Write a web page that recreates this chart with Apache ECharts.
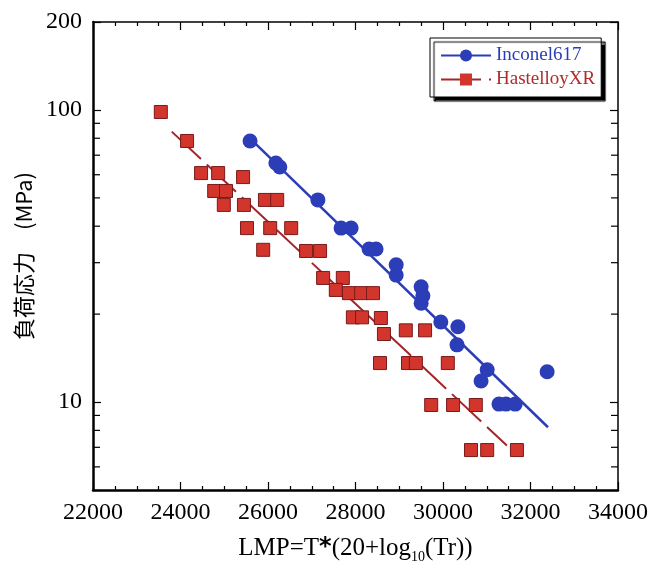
<!DOCTYPE html>
<html>
<head>
<meta charset="utf-8">
<script src="https://cdn.jsdelivr.net/npm/echarts@6/dist/echarts.min.js"></script>
<style>
  html, body { margin: 0; padding: 0; background: #fff; }
  #main { width: 654px; height: 570px; }
</style>
</head>
<body>
<div id="main"></div>
<script>
// measured points: [LMP, stress MPa]
var inconel = [
  [25590, 78.3], [26180, 65.8], [26270, 63.8], [27140, 49.2], [27670, 39.4],
  [27900, 39.4], [28310, 33.4], [28470, 33.4], [28930, 29.5], [28930, 27.2],
  [29500, 24.8], [29540, 23.1], [29500, 21.8], [29950, 18.8], [30340, 18.1],
  [30320, 15.7], [31010, 12.9], [30870, 11.8], [32380, 12.7], [31280, 9.84],
  [31440, 9.84], [31650, 9.84]
]
var hastelloy = [
  [23550, 98.4], [24150, 78.3], [24470, 60.8], [24860, 60.8], [25430, 58.9],
  [24770, 52.8], [25040, 52.8], [24990, 47.3], [25450, 47.3], [25930, 49.2],
  [26210, 49.2], [25520, 39.4], [26050, 39.4], [26530, 39.4], [25890, 33.2],
  [26870, 32.9], [27190, 32.9], [27260, 26.6], [27710, 26.6], [27550, 24.2],
  [27850, 23.6], [28130, 23.6], [28400, 23.6], [27940, 19.5], [28150, 19.5],
  [28580, 19.4], [28650, 17.1], [29150, 17.6], [29590, 17.6], [28560, 13.6],
  [29200, 13.6], [29380, 13.6], [30110, 13.6], [29730, 9.77], [30230, 9.77],
  [30750, 9.77], [30640, 6.85], [31010, 6.85], [31690, 6.85]
]
// fitted lines (end points)
var inconelFit = [[25600, 79.6], [32400, 8.2]]
var hastelloyFit = [[23800, 84.3], [31460, 7.1]]

// axis ranges / tick values
var xMin = 22000, xMax = 34000, xStep = 2000
var yMin = 5, yMax = 200
var yLabels = [10, 100, 200]
var yMinorTicks = [6, 7, 8, 9, 20, 30, 40, 50, 60, 70, 80, 90]

var blue = '#2c3db8'
var red = '#d2352c'
var redLine = '#a3262a'
var serif = '"Liberation Serif", "DejaVu Serif", serif'

var chart = echarts.init(document.getElementById('main'), null, { renderer: 'canvas' })

function xAxisCfg(pos) {
  return {
    type: 'value',
    position: pos,
    min: xMin,
    max: xMax,
    interval: xStep,
    axisLine: { show: true, onZero: false, lineStyle: { color: '#000', width: pos === 'bottom' ? 2.5 : 1.5 } },
    axisTick: { show: true, inside: true, length: 8, lineStyle: { color: '#000', width: 1.2 } },
    minorTick: { show: true, splitNumber: 4, length: 4, lineStyle: { color: '#000', width: 1.2 } },
    splitLine: { show: false },
    axisLabel: {
      show: pos === 'bottom',
      margin: 11,
      color: '#000',
      fontSize: 24,
      fontFamily: serif,
      formatter: function (v) { return String(v) }
    }
  }
}

function yAxisCfg(pos) {
  return {
    type: 'log',
    logBase: 10,
    position: pos,
    min: yMin,
    max: yMax,
    axisLine: { show: true, onZero: false, lineStyle: { color: '#000', width: pos === 'left' ? 2.5 : 1.5 } },
    axisTick: { show: true, inside: true, length: 8, lineStyle: { color: '#000', width: 1.2 } },
    splitLine: { show: false },
    axisLabel: {
      show: pos === 'left',
      margin: 11,
      color: '#000',
      fontSize: 24,
      fontFamily: serif,
      formatter: function (v) {
        return yLabels.indexOf(Math.round(v)) >= 0 ? String(Math.round(v)) : ''
      }
    }
  }
}

var xb = xAxisCfg('bottom')
xb.name = '{a|LMP=T}{b|*}{a|(20+log}{s|10}{a|(Tr))}'
xb.nameLocation = 'middle'
xb.nameGap = 43
xb.nameTextStyle = {
  rich: {
    a: { fontSize: 25, fontFamily: serif, color: '#000', lineHeight: 30 },
    b: { fontSize: 24, fontFamily: 'DejaVu Sans', fontWeight: 'bold', color: '#000', lineHeight: 30 },
    s: { fontSize: 14, fontFamily: serif, color: '#000', lineHeight: 30, padding: [18, 0, 0, 0] }
  }
}
var xt = xAxisCfg('top')

var yl = yAxisCfg('left')
yl.name = '負荷応力　(MPa)'
yl.nameLocation = 'middle'
yl.nameGap = 58
yl.nameRotate = 90
yl.nameTextStyle = { fontSize: 22, fontFamily: '"Noto Sans CJK JP"', color: '#000' }
var yr = yAxisCfg('right')

var option = {
  animation: false,
  backgroundColor: '#fff',
  grid: { left: 93, right: 36, top: 22, bottom: 80, outerBoundsMode: 'none' },
  legend: {
    orient: 'vertical',
    left: 430,
    top: 38,
    padding: [8, 6, 8, 10],
    itemGap: 5,
    itemWidth: 50,
    itemHeight: 15,
    backgroundColor: '#fff',
    borderColor: '#000',
    borderWidth: 1,
    shadowColor: '#000',
    shadowBlur: 1,
    shadowOffsetX: 4,
    shadowOffsetY: 4,
    textStyle: { fontSize: 19, fontFamily: serif },
    data: [
      { name: 'Inconel617', textStyle: { color: blue } },
      { name: 'HastelloyXR', textStyle: { color: '#b22a2a' } }
    ]
  },
  xAxis: [xb, xt],
  yAxis: [yl, yr],
  series: [
    {
      name: 'Inconel617',
      type: 'line',
      data: inconelFit,
      symbol: 'circle',
      symbolSize: 15,
      showSymbol: false,
      itemStyle: { color: blue },
      lineStyle: { color: blue, width: 2.5 },
      z: 2
    },
    {
      name: 'HastelloyXR',
      type: 'line',
      data: hastelloyFit,
      symbol: 'rect',
      symbolSize: 13,
      showSymbol: false,
      itemStyle: { color: red },
      lineStyle: { color: redLine, width: 2, type: [40, 8] },
      z: 2
    },
    {
      name: 'Inconel617',
      type: 'scatter',
      data: inconel,
      symbol: 'circle',
      symbolSize: 15,
      itemStyle: { color: blue, opacity: 1 },
      z: 3
    },
    {
      name: 'HastelloyXR',
      type: 'scatter',
      data: hastelloy,
      symbol: 'rect',
      symbolSize: 13,
      itemStyle: { color: red, borderColor: '#7a1a1a', borderWidth: 1, opacity: 1 },
      z: 3
    },
    {
      // minor ticks of the log axis, on left and right frame
      type: 'custom',
      data: yMinorTicks.map(function (v) { return [xMin, v] }),
      silent: true,
      z: 4,
      renderItem: function (params, api) {
        var v = api.value(1)
        var l = api.coord([xMin, v])
        var r = api.coord([xMax, v])
        var st = { stroke: '#000', lineWidth: 1.2 }
        return {
          type: 'group',
          children: [
            { type: 'line', shape: { x1: l[0], y1: l[1], x2: l[0] + 7, y2: l[1] }, style: st },
            { type: 'line', shape: { x1: r[0] - 7, y1: r[1], x2: r[0], y2: r[1] }, style: st }
          ]
        }
      }
    }
  ]
}

chart.setOption(option)
</script>
</body>
</html>
